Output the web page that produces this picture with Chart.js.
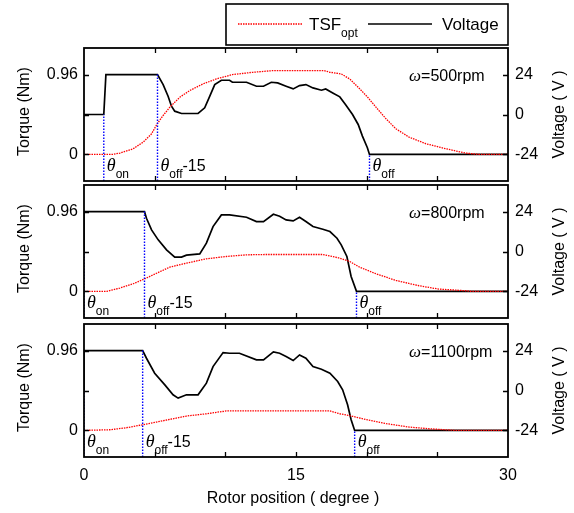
<!DOCTYPE html>
<html>
<head>
<meta charset="utf-8">
<script src="https://cdn.jsdelivr.net/npm/chart.js@4"></script>
<style>
  html, body { margin: 0; padding: 0; background: #fff; }
  #wrap { position: relative; width: 574px; height: 513px; }
  #wrap canvas { position: absolute; left: 0; top: 0; }
</style>
</head>
<body>
<div id="wrap">
  <canvas id="p500" width="574" height="513"></canvas>
  <canvas id="p800" width="574" height="513"></canvas>
  <canvas id="p1100" width="574" height="513"></canvas>
</div>
<script>
// rotor position (deg) / value pairs for each speed
const tsf500 = [[0,0],[2.05,0],[2.54,0.016],[3.48,0.068],[4.19,0.148],[4.78,0.248],[5.18,0.368],[5.6,0.468],
  [6.07,0.568],[6.78,0.688],[7.48,0.768],[8.42,0.848],[9.37,0.908],[10.5,0.96],[11.95,0.988],[13.36,1.008],
  [17.0,1.008],[17.4,0.988],[18.2,0.968],[18.8,0.908],[19.4,0.808],[20.07,0.688],[20.66,0.568],[21.37,0.428],
  [22.07,0.308],[23.0,0.208],[24.2,0.128],[25.6,0.068],[27.0,0.016],[27.95,0],[30,0]];
const volt500 = [[0,0],[1.4,0],[1.55,24],[5.2,24],[5.6,18],[5.95,11],[6.19,5],[6.42,2],[6.9,0.6],[8.07,0.6],
  [8.54,4],[8.9,11],[9.25,18],[9.72,20.6],[10.3,20.6],[10.5,19.4],[11.5,19.4],[12.2,17],[12.7,17],[13.25,19.4],
  [13.7,19],[14.3,17],[14.8,15.4],[15.25,17.4],[15.7,18],[16.2,16],[16.8,14.6],[17.1,15.4],[17.6,13],[18.1,10.6],
  [18.5,6],[19.0,0],[19.4,-6],[19.7,-13],[20.05,-20],[20.2,-24],[30,-24]];

const tsf800 = [[0,0],[1.6,0],[2.54,0.04],[3.48,0.092],[4.31,0.152],[4.9,0.2],[6.07,0.292],[7.25,0.34],
  [8.66,0.392],[10.06,0.42],[11.5,0.44],[12.9,0.444],[16.9,0.444],[18.1,0.4],[18.8,0.36],[19.5,0.292],
  [20.66,0.212],[22.07,0.132],[23.7,0.068],[25.1,0.028],[27.0,0.008],[27.4,0],[30,0]];
const volt800 = [[0,0],[0,24],[4.28,24],[4.42,20],[4.78,13],[5.25,7],[5.84,1],[6.42,-3.4],[6.9,-3.4],[7.25,-2.2],
  [8.19,-1.4],[8.66,5],[9.13,15],[9.72,22],[10.3,22],[11.5,20.6],[12.2,18],[12.7,18],[13.4,22.4],[13.84,21.2],
  [14.3,19],[14.8,18.4],[15.25,20.6],[15.7,18],[16.2,15],[16.9,13.4],[17.4,12],[17.9,8],[18.2,4],[18.6,-3],
  [18.9,-15],[19.28,-24],[30,-24]];

const tsf1100 = [[0,0],[1.84,0.008],[3.0,0.032],[4.19,0.069],[5.13,0.1],[6.3,0.14],[7.25,0.173],[8.66,0.2],
  [10.06,0.234],[17.4,0.234],[18.1,0.2],[19.0,0.17],[19.95,0.13],[21.4,0.081],[23.0,0.04],[24.4,0.02],
  [26.3,0],[30,0]];
const volt1100 = [[0,0],[0,24],[4.15,24],[4.42,19.4],[5.0,10.4],[5.72,3.4],[6.3,-2.6],[6.66,-4.6],[7.25,-2.6],
  [8.07,-2.6],[8.66,4.4],[9.13,14.4],[9.84,22.8],[10.3,22.4],[11.0,22.4],[12.2,18.4],[12.7,18.4],[13.4,23.2],
  [13.84,22.4],[14.3,20.4],[14.8,18],[15.25,21.4],[15.7,19.4],[16.2,14.4],[16.8,12.8],[17.4,10.4],[17.95,5.4],
  [18.3,0.4],[18.65,-8.6],[18.9,-17.6],[19.15,-24],[30,-24]];

const speeds = ['500', '800', '1100'];
const thetaOn = [1.4, 0, 0];
const thetaOff = [20.2, 19.28, 19.15];

const torqueTicks = [0, 0.48, 0.96];
const voltTicks = [-24, 0, 24];
const xLabelTicks = [0, 15, 30];
const xMinorTicks = [5, 10, 15, 20, 25];

const SANS = '"Liberation Sans", Arial, sans-serif';
const SERIF = '"Liberation Serif", "Times New Roman", serif';

// vertical extent of each panel box on the page
const panelBox = [[48, 181], [185, 318], [324, 457]];

function pts(pairs) { return pairs.map(p => ({x: p[0], y: p[1]})); }

function drawParts(ctx, x, y, parts) {
  let cx = x;
  for (const p of parts) {
    ctx.font = p.font;
    ctx.fillText(p.text, cx, y + (p.dy || 0));
    cx += ctx.measureText(p.text).width + (p.gap || 0);
  }
}

const theta = (sub, tail) => {
  const parts = [{text: 'θ', font: 'italic 18px ' + SERIF}, {text: sub, font: '12px ' + SANS, dy: 7}];
  if (tail) parts.push({text: tail, font: '16px ' + SANS});
  return parts;
};

const panelFrame = {
  id: 'panelFrame',
  afterDraw(chart, args, opts) {
    const {ctx, chartArea: a, scales} = chart;
    const sx = scales.x, sl = scales.y, sr = scales.y1;
    ctx.save();

    // box and inward ticks
    ctx.strokeStyle = '#000';
    ctx.lineWidth = 1.8;
    ctx.strokeRect(a.left, a.top, a.right - a.left, a.bottom - a.top);
    ctx.lineWidth = 1.3;
    ctx.beginPath();
    xMinorTicks.forEach(v => {
      const px = Math.round(sx.getPixelForValue(v)) + 0.5;
      ctx.moveTo(px, a.top); ctx.lineTo(px, a.top + 5);
      ctx.moveTo(px, a.bottom); ctx.lineTo(px, a.bottom - 5);
    });
    torqueTicks.forEach(v => {
      const py = Math.round(sl.getPixelForValue(v)) + 0.5;
      ctx.moveTo(a.left, py); ctx.lineTo(a.left + 5, py);
    });
    voltTicks.forEach(v => {
      const py = Math.round(sr.getPixelForValue(v)) + 0.5;
      ctx.moveTo(a.right, py); ctx.lineTo(a.right - 5, py);
    });
    ctx.stroke();

    ctx.fillStyle = '#000';
    ctx.textBaseline = 'alphabetic';
    ctx.textAlign = 'left';

    // switching angle labels
    const base = a.bottom - 10;
    drawParts(ctx, sx.getPixelForValue(opts.on) + 3, base, theta('on'));
    drawParts(ctx, sx.getPixelForValue(opts.off - 15) + 3, base, theta('off', '-15'));
    drawParts(ctx, sx.getPixelForValue(opts.off) + 3, base, theta('off'));

    // speed label
    const wy = sr.getPixelForValue(24) + 6;
    drawParts(ctx, sx.getPixelForValue(23), wy, [
      {text: 'ω', font: 'italic 17px ' + SERIF},
      {text: '=' + opts.speed + 'rpm', font: '16px ' + SANS}
    ]);

    // axis titles
    const cy = (a.top + a.bottom) / 2;
    ctx.font = '16px ' + SANS;
    ctx.textAlign = 'center';
    ctx.textBaseline = 'middle';
    ctx.save();
    ctx.translate(25, cy - 3);
    ctx.rotate(-Math.PI / 2);
    ctx.fillText('Torque (Nm)', 0, 0);
    ctx.restore();
    ctx.save();
    ctx.translate(560, cy);
    ctx.rotate(-Math.PI / 2);
    ctx.fillText('Voltage ( V )', 0, 0);
    ctx.restore();

    if (opts.xTitle) {
      ctx.fillText('Rotor position ( degree )', (a.left + a.right) / 2 - 3, a.bottom + 42);
    }

    // legend
    if (opts.legend) {
      const L = a.right - 282, T = 4;
      ctx.lineWidth = 1.6;
      ctx.strokeRect(L, T, 282, 41);
      ctx.lineWidth = 1.3;
      ctx.strokeStyle = '#ff0000';
      ctx.setLineDash([1.5, 1]);
      ctx.beginPath(); ctx.moveTo(L + 12, T + 20); ctx.lineTo(L + 77, T + 20); ctx.stroke();
      ctx.setLineDash([]);
      ctx.strokeStyle = '#000';
      ctx.lineWidth = 1.6;
      ctx.beginPath(); ctx.moveTo(L + 142, T + 20); ctx.lineTo(L + 206, T + 20); ctx.stroke();
      ctx.textAlign = 'left';
      ctx.textBaseline = 'alphabetic';
      drawParts(ctx, L + 83, T + 26, [
        {text: 'TSF', font: '17px ' + SANS},
        {text: 'opt', font: '12px ' + SANS, dy: 7}
      ]);
      ctx.font = '17px ' + SANS;
      ctx.fillText('Voltage', L + 216, T + 26);
    }
    ctx.restore();
  }
};

function makePanel(i, tsf, volt) {
  const [top, bottom] = panelBox[i];
  const last = i === 2;
  const on = thetaOn[i], off = thetaOff[i];
  const blue = (x, y) => ({
    data: [{x: x, y: -40}, {x: x, y: y}],
    yAxisID: 'y1', borderColor: '#0000ff', borderWidth: 1.4, borderDash: [1.5, 1.5]
  });
  new Chart(document.getElementById('p' + speeds[i]), {
    type: 'line',
    data: {
      datasets: [
        blue(on, 0),
        blue(off - 15, 24),
        blue(off, -24),
        {label: 'TSF', data: pts(tsf), yAxisID: 'y', borderColor: '#ff0000', borderWidth: 1.3, borderDash: [1.5, 1]},
        {label: 'Voltage', data: pts(volt), yAxisID: 'y1', borderColor: '#000', borderWidth: 1.7}
      ]
    },
    options: {
      responsive: false,
      animation: false,
      layout: {padding: {top: top, bottom: 0, left: 0, right: 0}},
      elements: {point: {radius: 0}, line: {tension: 0, fill: false}},
      plugins: {
        legend: {display: false},
        tooltip: {enabled: false},
        panelFrame: {on: on, off: off, speed: speeds[i], legend: i === 0, xTitle: last}
      },
      scales: {
        x: {
          type: 'linear', min: 0, max: 30,
          grid: {display: false}, border: {display: false},
          afterBuildTicks: ax => { ax.ticks = xLabelTicks.map(v => ({value: v})); },
          afterFit: ax => { ax.height = 513 - bottom; },
          ticks: {display: last, color: '#000', font: {family: SANS, size: 16}, padding: 1, maxRotation: 0}
        },
        y: {
          position: 'left', min: -0.32, max: 1.28,
          grid: {display: false, drawTicks: false}, border: {display: false},
          afterBuildTicks: ax => { ax.ticks = torqueTicks.map(v => ({value: v})); },
          afterFit: ax => { ax.width = 84; },
          ticks: {color: '#000', font: {family: SANS, size: 16}, padding: 6,
                  callback: v => (v === 0.48 ? '' : String(v))}
        },
        y1: {
          position: 'right', min: -40, max: 40,
          grid: {display: false, drawTicks: false}, border: {display: false},
          afterBuildTicks: ax => { ax.ticks = voltTicks.map(v => ({value: v})); },
          afterFit: ax => { ax.width = 66; },
          ticks: {color: '#000', font: {family: SANS, size: 16}, padding: 7, callback: v => String(v)}
        }
      }
    },
    plugins: [panelFrame]
  });
}

makePanel(0, tsf500, volt500);
makePanel(1, tsf800, volt800);
makePanel(2, tsf1100, volt1100);
</script>
</body>
</html>
